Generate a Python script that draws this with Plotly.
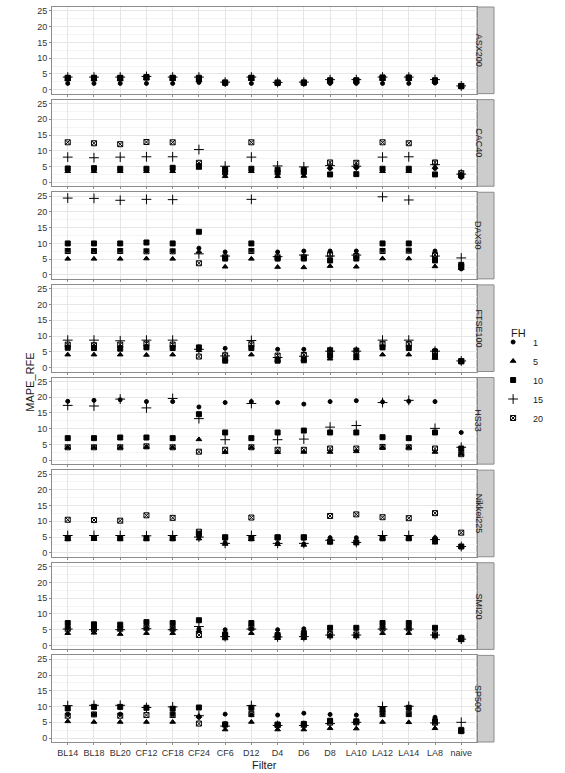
import plotly.graph_objects as go
from plotly.subplots import make_subplots

filters = ["BL14", "BL18", "BL20", "CF12", "CF18", "CF24", "CF6", "D12",
           "D4", "D6", "D8", "LA10", "LA12", "LA14", "LA8", "naive"]
horizons = ["1", "5", "10", "15", "20"]
markets = ["ASX200", "CAC40", "DAX30", "FTSE100", "HS33", "Nikkei225", "SMI20", "SP500"]

# MAPE_RFE per market, one row per forecast horizon (FH 1, 5, 10, 15, 20)
asx200 = [
    [2.0, 2.0, 2.0, 2.0, 2.0, 2.3, 1.9, 2.0, 1.9, 1.9, 2.0, 2.0, 2.0, 2.0, 2.1, 1.0],
    [3.3, 3.3, 3.3, 3.5, 3.4, 3.0, 2.3, 3.4, 2.2, 2.2, 2.6, 2.6, 3.4, 3.4, 2.7, 1.1],
    [3.8, 3.8, 3.8, 4.0, 3.8, 3.8, 2.2, 3.8, 2.1, 2.2, 3.0, 3.0, 3.9, 3.9, 3.0, 1.2],
    [4.0, 4.0, 4.0, 4.2, 4.0, 4.0, 2.4, 4.0, 2.3, 2.4, 3.2, 3.2, 4.0, 4.0, 3.2, 1.2],
    [3.6, 3.6, 3.6, 3.9, 3.7, 3.3, 2.3, 3.7, 2.3, 2.3, 2.8, 2.8, 3.7, 3.7, 2.8, 1.1],
]
cac40 = [
    [4.0, 4.0, 4.0, 4.0, 4.0, 5.5, 3.0, 4.0, 3.0, 3.0, 4.4, 4.6, 4.0, 4.0, 4.4, 1.6],
    [3.5, 3.5, 3.5, 3.5, 3.5, 4.6, 1.9, 3.5, 1.9, 2.0, 4.8, 5.0, 3.5, 3.5, 4.8, 2.0],
    [4.4, 4.5, 4.3, 4.3, 4.6, 5.0, 4.1, 4.3, 4.0, 3.9, 2.5, 2.6, 4.3, 4.3, 2.5, 2.2],
    [8.0, 7.8, 8.0, 8.1, 8.1, 10.4, 5.1, 8.0, 5.2, 4.9, 5.3, 5.1, 8.0, 8.1, 5.6, 2.6],
    [12.7, 12.4, 12.1, 12.8, 12.7, 6.2, 3.1, 12.7, 3.1, 3.3, 6.3, 6.2, 12.7, 12.4, 6.3, 2.9],
]
dax30 = [
    [7.8, 7.8, 7.8, 7.6, 7.6, 8.5, 7.3, 7.8, 7.3, 7.6, 7.6, 7.6, 7.8, 7.8, 7.6, 1.9],
    [5.1, 5.1, 5.1, 5.2, 5.1, 7.4, 2.6, 5.1, 2.5, 2.4, 2.8, 2.6, 5.2, 5.2, 2.7, 2.2],
    [10.0, 10.0, 10.0, 10.3, 10.0, 13.7, 5.2, 10.0, 5.2, 5.2, 4.6, 5.2, 10.0, 10.0, 4.6, 3.2],
    [24.4, 24.3, 23.7, 24.0, 23.9, 6.7, 6.0, 24.0, 5.8, 6.3, 6.0, 6.3, 24.8, 23.8, 6.0, 5.4],
    [7.6, 7.6, 7.6, 7.5, 7.5, 3.7, 5.6, 7.6, 5.6, 5.6, 6.5, 6.0, 7.6, 7.7, 6.3, 2.5],
]
ftse100 = [
    [6.5, 6.5, 6.5, 6.5, 6.5, 6.0, 6.1, 6.5, 5.8, 5.8, 5.6, 5.6, 6.5, 6.5, 5.5, 2.0],
    [4.1, 4.1, 4.1, 4.0, 4.1, 5.5, 2.5, 4.1, 2.4, 2.5, 2.8, 2.9, 4.1, 4.1, 3.0, 1.9],
    [6.3, 6.2, 6.0, 6.4, 6.2, 6.4, 2.2, 6.2, 2.2, 2.3, 3.8, 3.6, 6.4, 6.2, 3.6, 2.0],
    [8.7, 8.7, 8.5, 8.7, 8.7, 5.8, 3.7, 8.6, 3.2, 3.6, 5.2, 5.2, 8.7, 8.7, 5.2, 2.1],
    [7.3, 7.1, 7.3, 7.6, 7.3, 3.5, 3.9, 7.4, 3.8, 4.0, 5.5, 5.4, 7.5, 7.5, 5.1, 2.0],
]
hs33 = [
    [18.7, 19.0, 19.2, 18.6, 18.6, 16.9, 18.3, 18.6, 18.3, 17.8, 18.6, 18.9, 18.5, 18.7, 18.6, 8.8],
    [4.0, 4.0, 4.0, 4.2, 4.0, 6.6, 2.5, 4.0, 2.5, 2.6, 2.6, 2.8, 4.0, 4.0, 2.6, 2.0],
    [7.0, 7.0, 7.2, 7.2, 7.0, 14.6, 8.8, 7.0, 8.8, 9.4, 8.8, 8.8, 7.3, 7.0, 8.8, 3.7],
    [17.4, 17.2, 19.4, 16.6, 19.6, 13.2, 6.5, 18.0, 6.5, 6.7, 10.5, 11.0, 18.3, 19.0, 10.1, 4.1],
    [4.1, 4.1, 4.1, 4.4, 4.1, 2.7, 3.3, 4.1, 3.3, 3.3, 3.7, 3.7, 4.2, 4.1, 3.7, 1.9],
]
nikkei225 = [
    [4.8, 4.8, 4.8, 4.8, 4.8, 5.0, 3.2, 4.8, 3.0, 2.8, 4.8, 4.8, 4.8, 4.8, 4.8, 2.0],
    [4.3, 4.4, 4.4, 4.4, 4.4, 4.5, 2.8, 4.3, 2.7, 2.5, 3.2, 3.5, 4.5, 4.5, 3.2, 1.9],
    [4.6, 4.7, 4.6, 4.6, 4.6, 6.0, 4.9, 4.6, 4.9, 4.9, 3.6, 3.3, 4.6, 4.6, 4.0, 2.0],
    [5.5, 5.5, 5.5, 5.4, 5.5, 5.0, 3.0, 5.5, 3.0, 3.0, 4.0, 3.3, 5.5, 5.5, 4.2, 2.0],
    [10.5, 10.4, 10.2, 11.9, 11.1, 6.7, 4.9, 11.2, 4.9, 4.9, 11.7, 12.2, 11.3, 11.0, 12.6, 6.4],
]
smi20 = [
    [5.5, 5.3, 5.4, 5.5, 5.3, 5.2, 5.0, 5.4, 5.0, 5.3, 3.2, 3.3, 5.5, 5.5, 3.3, 1.8],
    [3.9, 4.0, 3.6, 3.9, 3.9, 4.7, 2.2, 3.9, 2.3, 2.3, 2.8, 2.8, 3.9, 3.9, 2.8, 1.7],
    [7.1, 6.7, 6.6, 7.4, 7.1, 8.0, 3.5, 7.1, 3.3, 3.9, 5.6, 5.6, 7.1, 7.1, 5.6, 2.4],
    [5.2, 5.0, 5.0, 5.3, 5.0, 6.0, 2.8, 5.2, 2.7, 2.8, 3.3, 3.3, 5.2, 5.2, 3.3, 2.0],
    [5.3, 5.1, 5.3, 5.6, 5.3, 3.3, 2.9, 5.6, 2.8, 3.0, 3.6, 3.5, 5.4, 5.4, 3.5, 2.0],
]
sp500 = [
    [7.6, 7.5, 7.6, 9.6, 7.5, 6.6, 7.6, 7.4, 7.3, 7.9, 7.5, 7.3, 7.6, 7.5, 6.6, 2.0],
    [5.3, 5.1, 5.1, 5.1, 5.1, 7.0, 2.7, 5.1, 2.7, 2.7, 3.1, 3.0, 5.1, 5.0, 3.1, 2.1],
    [9.4, 9.9, 9.9, 9.6, 9.3, 9.7, 4.3, 9.6, 4.3, 4.5, 5.5, 5.3, 9.1, 9.6, 5.3, 2.6],
    [10.3, 10.4, 10.4, 9.7, 9.9, 7.1, 3.8, 10.3, 4.0, 4.0, 4.6, 5.0, 10.0, 10.1, 4.8, 5.0],
    [7.1, 7.5, 7.1, 7.3, 7.3, 4.6, 4.3, 7.6, 4.1, 4.2, 4.9, 5.0, 7.6, 7.6, 4.9, 2.2],
]
panels = [asx200, cac40, dax30, ftse100, hs33, nikkei225, smi20, sp500]

# ggplot-like shapes for each horizon
symbols = {"1": "circle", "5": "triangle-up", "10": "square",
           "15": "cross-thin-open", "20": "square-x-open"}
sizes = {"1": 4, "5": 5, "10": 5, "15": 7, "20": 5}

n = len(markets)
fig = make_subplots(rows=n, cols=1, shared_xaxes=True, vertical_spacing=6 / 735)

for r, (name, rows) in enumerate(zip(markets, panels), start=1):
    for fh, vals in zip(horizons, rows):
        marker = dict(symbol=symbols[fh], size=sizes[fh], color="black",
                      line=dict(color="black", width=1))
        fig.add_trace(go.Scatter(
            x=filters, y=vals, mode="markers", name=fh, legendgroup=fh,
            showlegend=(r == 1), marker=marker, hoverinfo="x+y+name"
        ), row=r, col=1)

    # facet strip on the right
    yref = "y domain" if r == 1 else f"y{r} domain"
    fig.add_shape(type="rect", xref="paper", yref=yref, x0=0.9615, x1=1.0, y0=0, y1=1,
                  fillcolor="#cccccc", line=dict(color="#8c8c8c", width=1), layer="below")
    fig.add_annotation(text=name, xref="paper", yref=yref, x=0.981, y=0.5,
                       showarrow=False, textangle=90,
                       font=dict(size=9, color="#1a1a1a"))

fig.update_xaxes(
    domain=[0, 0.9615], type="category", categoryorder="array", categoryarray=filters,
    range=[-0.6, 15.6], showgrid=True, gridcolor="#e6e6e6", gridwidth=1,
    showline=True, linecolor="#8c8c8c", mirror=True, ticks="outside", ticklen=2,
    tickcolor="#8c8c8c", tickfont=dict(size=9, color="#333333"), zeroline=False
)
fig.update_yaxes(
    range=[-1.25, 26.25], tickvals=[0, 5, 10, 15, 20, 25], showgrid=True,
    gridcolor="#e6e6e6", gridwidth=1,
    minor=dict(tickvals=[2.5, 7.5, 12.5, 17.5, 22.5], showgrid=True, gridcolor="#f4f4f4"),
    showline=True, linecolor="#8c8c8c", mirror=True, ticks="outside", ticklen=2,
    tickcolor="#8c8c8c", tickfont=dict(size=9, color="#333333"), zeroline=False
)

fig.add_annotation(text="Filter", xref="paper", yref="paper", x=0.9615 / 2, y=-0.031,
                   showarrow=False, xanchor="center", yanchor="middle",
                   font=dict(size=11, color="#1a1a1a"))
fig.add_annotation(text="MAPE_RFE", xref="paper", yref="paper", x=-0.05, y=0.49,
                   showarrow=False, textangle=-90, xanchor="center",
                   font=dict(size=11, color="#1a1a1a"))
# legend title placed above the keys, left-aligned with them
fig.add_annotation(text="FH", xref="paper", yref="paper", x=1.035, y=0.5565,
                   showarrow=False, xanchor="left", yanchor="middle",
                   font=dict(size=11, color="#1a1a1a"))

fig.update_layout(
    width=565, height=773,
    margin=dict(l=52, r=71, t=7, b=31),
    plot_bgcolor="white", paper_bgcolor="white",
    font=dict(family="Liberation Sans, Arial, sans-serif"),
    legend=dict(font=dict(size=9, color="#1a1a1a"),
                x=0.998, xanchor="left", y=0.4925, yanchor="middle",
                bgcolor="rgba(0,0,0,0)", itemsizing="trace", itemwidth=30,
                tracegroupgap=0),
    showlegend=True,
)

# drop the browser's default page margin so the figure sits at the top-left corner
fig.write_html("out.html", config={"displayModeBar": False},
               post_script="document.body.style.margin = '0';")
